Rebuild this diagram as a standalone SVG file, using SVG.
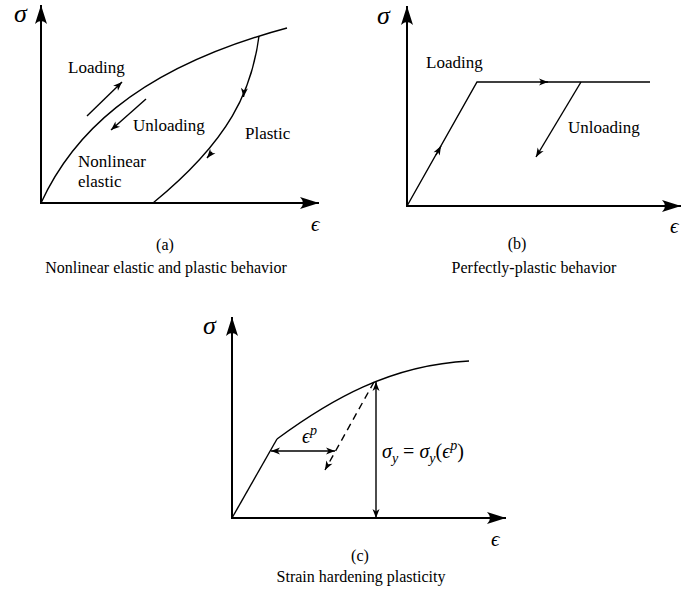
<svg xmlns="http://www.w3.org/2000/svg" width="682" height="593" viewBox="0 0 682 593">
<style>
.ln{fill:none;stroke:#000;stroke-width:1.4}
.ax{fill:none;stroke:#000;stroke-width:2}
.t{font-family:"Liberation Serif","Times New Roman",serif;font-size:17px;fill:#000}
.cap{font-family:"Liberation Serif","Times New Roman",serif;font-size:16px;fill:#000;text-anchor:middle}
.m{font-family:"Liberation Serif","DejaVu Serif",serif;font-style:italic;fill:#000}
.dash{stroke-dasharray:7 5}
</style>
<defs>
<marker id="axh" markerUnits="userSpaceOnUse" markerWidth="24" markerHeight="16" viewBox="-22 -8 24 16" refX="0" refY="0" orient="auto">
<path d="M0,0 L-19,-6 Q-13,0 -19,6 Z" fill="#000"/>
</marker>
<marker id="sh" markerUnits="userSpaceOnUse" markerWidth="12" markerHeight="10" viewBox="-10 -5 12 10" refX="0" refY="0" orient="auto">
<path d="M0,0 L-9,-3.5 L-6.5,0 L-9,3.5 Z" fill="#000"/>
</marker>
<marker id="shs" markerUnits="userSpaceOnUse" markerWidth="12" markerHeight="10" viewBox="-10 -5 12 10" refX="0" refY="0" orient="auto-start-reverse">
<path d="M0,0 L-9,-3.5 L-6.5,0 L-9,3.5 Z" fill="#000"/>
</marker>
</defs>

<g id="panel-a">
<g id="axes-a">
<line class="ax" x1="41" y1="203" x2="41" y2="5" marker-end="url(#axh)"/>
<line class="ax" x1="40" y1="203" x2="319" y2="203" marker-end="url(#axh)"/>
</g>
<text class="m" x="14" y="22" font-size="26">σ</text>
<text class="m" x="311" y="231" font-size="21">ϵ</text>
<g id="curves-a">
<path class="ln" d="M41,203 C70,140 130,70 287,28"/>
<path class="ln" d="M259,36 C252,90 230,140 153,203"/>
<line class="ln" x1="244" y1="92" x2="243.5" y2="97" marker-end="url(#sh)"/>
<line class="ln" x1="212" y1="152" x2="207" y2="158" marker-end="url(#sh)"/>
<line class="ln" x1="87" y1="116" x2="122" y2="82" marker-end="url(#sh)"/>
<line class="ln" x1="146" y1="99" x2="111" y2="130" marker-end="url(#sh)"/>
</g>
<text class="t" x="68" y="73">Loading</text>
<text class="t" x="133" y="131">Unloading</text>
<text class="t" x="245" y="139">Plastic</text>
<text class="t" x="78" y="167">Nonlinear</text>
<text class="t" x="78" y="187">elastic</text>
<text class="cap" x="165" y="250">(a)</text>
<text class="cap" x="166" y="273">Nonlinear elastic and plastic behavior</text>
</g>

<g id="panel-b">
<g id="axes-b">
<line class="ax" x1="407" y1="206" x2="407" y2="6" marker-end="url(#axh)"/>
<line class="ax" x1="406" y1="206" x2="681" y2="206" marker-end="url(#axh)"/>
</g>
<text class="m" x="377" y="24" font-size="26">σ</text>
<text class="m" x="670" y="233" font-size="21">ϵ</text>
<g id="curves-b">
<polyline class="ln" points="407,206 477,82 650,82"/>
<line class="ln" x1="436" y1="155" x2="441" y2="146" marker-end="url(#sh)"/>
<line class="ln" x1="540" y1="82" x2="548" y2="82" marker-end="url(#sh)"/>
<line class="ln" x1="581" y1="82" x2="536" y2="157" marker-end="url(#sh)"/>
</g>
<text class="t" x="426" y="68">Loading</text>
<text class="t" x="568" y="133">Unloading</text>
<text class="cap" x="517" y="249">(b)</text>
<text class="cap" x="534" y="273">Perfectly-plastic behavior</text>
</g>

<g id="panel-c">
<g id="axes-c">
<line class="ax" x1="232" y1="518" x2="232" y2="317" marker-end="url(#axh)"/>
<line class="ax" x1="231" y1="518" x2="506" y2="518" marker-end="url(#axh)"/>
</g>
<text class="m" x="203" y="334" font-size="26">σ</text>
<text class="m" x="491" y="546" font-size="21">ϵ</text>
<g id="curves-c">
<polyline class="ln" points="232,518 277,439"/>
<path class="ln" d="M277,439 C330,400 390,365 469,361"/>
<line class="ln" x1="271" y1="451" x2="335" y2="451" marker-start="url(#shs)" marker-end="url(#shs)"/>
<line class="ln dash" x1="374" y1="382" x2="325" y2="470" marker-end="url(#sh)"/>
<line class="ln" x1="376" y1="382" x2="376" y2="518" marker-start="url(#shs)" marker-end="url(#shs)"/>
</g>
<text class="m" x="302" y="443" font-size="20">ϵ<tspan font-size="14" dy="-8">p</tspan></text>
<text class="m" x="382" y="458" font-size="20">σ<tspan font-size="14" dy="5">y</tspan><tspan dy="-5" font-style="normal"> = </tspan>σ<tspan font-size="14" dy="5">y</tspan><tspan dy="-5" font-style="normal">(</tspan>ϵ<tspan font-size="14" dy="-8">p</tspan><tspan dy="8" font-style="normal">)</tspan></text>
<text class="cap" x="360" y="561">(c)</text>
<text class="cap" x="361" y="582">Strain hardening plasticity</text>
</g>
</svg>
